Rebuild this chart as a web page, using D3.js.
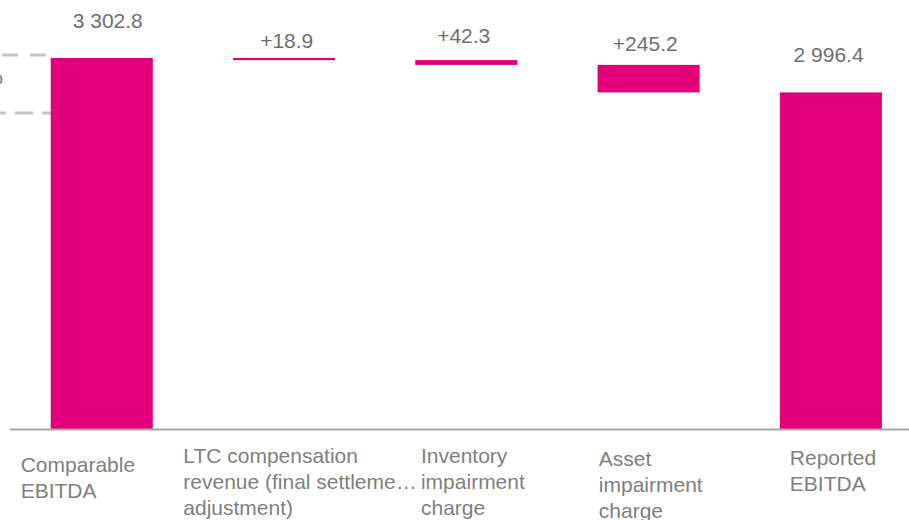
<!DOCTYPE html>
<html>
<head>
<meta charset="utf-8">
<script src="https://cdn.jsdelivr.net/npm/d3@7"></script>
<style>
  html, body { margin: 0; padding: 0; background: #ffffff; }
  svg { display: block; }
  text { font-family: "Liberation Sans", Arial, sans-serif; }
</style>
</head>
<body>
<svg id="chart" width="909" height="520"></svg>
<script>
// Waterfall: comparable EBITDA bridged to reported EBITDA (values in millions)
const categories = [
  "Comparable EBITDA",
  "LTC compensation revenue (final settlement adjustment)",
  "Inventory impairment charge",
  "Asset impairment charge",
  "Reported EBITDA"
];
// Category text as drawn, one entry per line
const categoryLines = [
  ["Comparable", "EBITDA"],
  ["LTC compensation", "revenue (final settleme\u2026", "adjustment)"],
  ["Inventory", "impairment", "charge"],
  ["Asset", "impairment", "charge"],
  ["Reported", "EBITDA"]
];
const amounts = [3302.8, 18.9, 42.3, 245.2, 2996.4];
const kinds = ["total", "delta", "delta", "delta", "total"];

// Label placement tweaks (pixels)
const valueLift = [30, 10, 17, 14, 30];          // baseline distance above the bar top
const valueShift = [6, 2.7, -2.6, -3.3, -2.3];   // horizontal nudge from the bar centre
const catShift = [-30, -49.7, 5.7, 1.3, 10];     // text start relative to bar left edge
const catBaseline = [472, 463, 463, 466, 465];

const W = 909, H = 520;
const MAGENTA = "#e2007a";
const svg = d3.select("#chart");

// Running totals: deltas step down from the comparable figure
let running = 0;
const bars = categories.map((c, i) => {
  let y0, y1;
  if (kinds[i] === "total") { y0 = 0; y1 = amounts[i]; running = amounts[i]; }
  else { y1 = running; y0 = running - amounts[i]; running = y0; }
  return { cat: c, i, y0, y1, amount: amounts[i], kind: kinds[i] };
});

const x = d3.scaleBand()
  .domain(categories)
  .range([10.6, 922])
  .paddingInner(0.44)
  .paddingOuter(0.22);

const y = d3.scaleLinear()
  .domain([0, 3302.8])
  .range([429, 58]);

const loc = d3.formatLocale({ decimal: ".", thousands: " ", grouping: [3], currency: ["", ""] });
const fmtTotal = loc.format(",.1f");
const fmtDelta = loc.format(".1f");

// Dashed bracket lines at the left edge
const dashG = svg.append("g");
dashG.append("line")
  .attr("x1", 0).attr("x2", x(categories[0]) + 2)
  .attr("y1", 55).attr("y2", 55)
  .attr("stroke", "#c4c4c4").attr("stroke-width", 3)
  .attr("stroke-dasharray", "16 12").attr("stroke-dashoffset", -2);
dashG.append("line")
  .attr("x1", 0).attr("x2", x(categories[0]) + 2)
  .attr("y1", 113).attr("y2", 113)
  .attr("stroke", "#c4c4c4").attr("stroke-width", 3)
  .attr("stroke-dasharray", "18 9").attr("stroke-dashoffset", 12);
dashG.append("text")
  .attr("x", 3).attr("y", 84)
  .attr("text-anchor", "end")
  .attr("font-size", 21)
  .attr("fill", "#707070")
  .text("%");

// Bars
svg.append("g").selectAll("rect")
  .data(bars)
  .join("rect")
  .attr("x", d => x(d.cat))
  .attr("width", x.bandwidth())
  .attr("y", d => y(d.y1))
  .attr("height", d => Math.max(2, y(d.y0) - y(d.y1)))
  .attr("fill", MAGENTA);

// Baseline axis
const axisG = svg.append("g").attr("transform", `translate(0,${y(0) + 0.5})`);
axisG.call(d3.axisBottom(x).tickSize(0).tickFormat(""));
axisG.select(".domain")
  .attr("d", "M10,0H909")
  .attr("stroke", "#a6a6a6")
  .attr("stroke-width", 2);

// Value labels
svg.append("g").selectAll("text")
  .data(bars)
  .join("text")
  .attr("x", d => x(d.cat) + x.bandwidth() / 2 + valueShift[d.i])
  .attr("y", d => y(d.y1) - valueLift[d.i])
  .attr("text-anchor", "middle")
  .attr("font-size", 21)
  .attr("fill", "#6f6f6f")
  .text(d => d.kind === "total" ? fmtTotal(d.amount) : "+" + fmtDelta(d.amount));

// Category labels
const catG = svg.append("g").selectAll("text")
  .data(bars)
  .join("text")
  .attr("x", d => x(d.cat) + catShift[d.i])
  .attr("y", d => catBaseline[d.i])
  .attr("font-size", 21)
  .attr("fill", "#7f7f7f");
catG.selectAll("tspan")
  .data(d => categoryLines[d.i].map(t => ({ t, x: x(d.cat) + catShift[d.i] })))
  .join("tspan")
  .attr("x", t => t.x)
  .attr("dy", (t, j) => j === 0 ? 0 : 26)
  .text(t => t.t);
</script>
</body>
</html>
